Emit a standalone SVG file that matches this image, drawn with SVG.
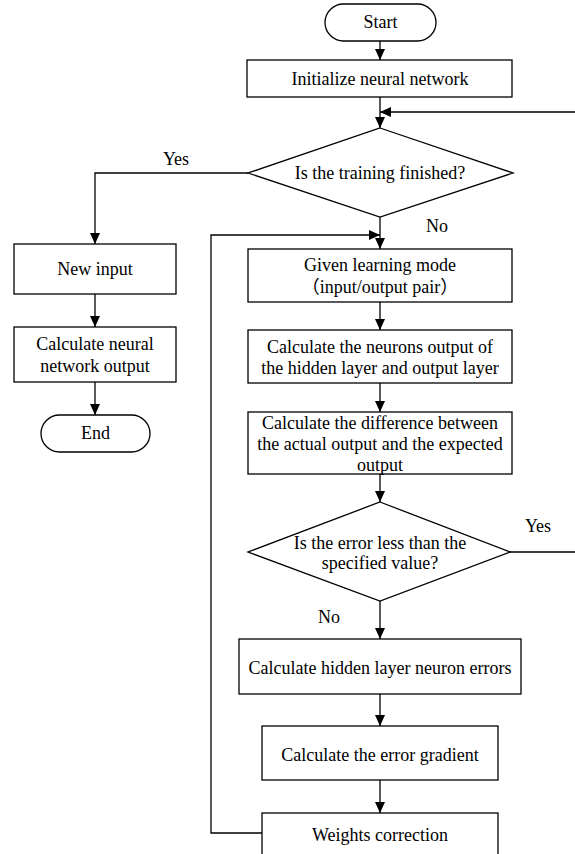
<svg xmlns="http://www.w3.org/2000/svg" width="575" height="854" viewBox="0 0 575 854">
<style>
.n{fill:#fff;stroke:#000;stroke-width:1.3}
.t{font-family:"Liberation Serif","Noto Sans CJK SC",serif;font-size:18px;fill:#000;text-anchor:middle}
.c{fill:none;stroke:#000;stroke-width:1.3}
</style>
<defs>
<marker id="ah" markerUnits="userSpaceOnUse" markerWidth="11" markerHeight="10" refX="11" refY="5" orient="auto">
<path d="M0,0 L11,5 L0,10 z" fill="#000"/>
</marker>
</defs>
<rect width="575" height="854" fill="#fff"/>
<g id="connectors">
<path class="c" d="M380,41 V60" marker-end="url(#ah)"/>
<path class="c" d="M380,97 V128" marker-end="url(#ah)"/>
<path class="c" d="M575,112 H380" marker-end="url(#ah)"/>
<path class="c" d="M248,173 H95 V244" marker-end="url(#ah)"/>
<path class="c" d="M95,294 V327" marker-end="url(#ah)"/>
<path class="c" d="M95,382 V415" marker-end="url(#ah)"/>
<path class="c" d="M380,217 V249" marker-end="url(#ah)"/>
<path class="c" d="M262,833 H211 V235 H380" marker-end="url(#ah)"/>
<path class="c" d="M380,302 V330" marker-end="url(#ah)"/>
<path class="c" d="M380,383 V412" marker-end="url(#ah)"/>
<path class="c" d="M380,474 V502" marker-end="url(#ah)"/>
<path class="c" d="M510,552 H575"/>
<path class="c" d="M380,601 V639" marker-end="url(#ah)"/>
<path class="c" d="M380,694 V726" marker-end="url(#ah)"/>
<path class="c" d="M380,780 V813" marker-end="url(#ah)"/>
<text class="t" x="176" y="165">Yes</text>
<text class="t" x="437" y="232">No</text>
<text class="t" x="538" y="532">Yes</text>
<text class="t" x="329" y="623">No</text>
</g>
<g id="start">
<rect class="n" x="325" y="4" width="111" height="37" rx="18.5"/>
<text class="t" x="380.5" y="28">Start</text>
</g>
<g id="init">
<rect class="n" x="247" y="60" width="265" height="37"/>
<text class="t" x="380" y="84.5">Initialize neural network</text>
</g>
<g id="trained">
<polygon class="n" points="380,128 513,173 380,217 248,173"/>
<text class="t" x="380" y="179">Is the training finished?</text>
</g>
<g id="newinput">
<rect class="n" x="14" y="244" width="162" height="50"/>
<text class="t" x="95" y="275">New input</text>
</g>
<g id="calcout">
<rect class="n" x="14" y="327" width="162" height="55"/>
<text class="t" x="95" y="350">Calculate neural</text>
<text class="t" x="95" y="372">network output</text>
</g>
<g id="end">
<rect class="n" x="41" y="415" width="109" height="37" rx="18.5"/>
<text class="t" x="95.5" y="439">End</text>
</g>
<g id="given">
<rect class="n" x="248" y="249" width="264" height="53"/>
<text class="t" x="380" y="271">Given learning mode</text>
<text class="t" x="380" y="293">（input/output pair）</text>
</g>
<g id="neurons">
<rect class="n" x="248" y="330" width="264" height="53"/>
<text class="t" x="380" y="353">Calculate the neurons output of</text>
<text class="t" x="380" y="374">the hidden layer and output layer</text>
</g>
<g id="diff">
<rect class="n" x="248" y="412" width="264" height="62"/>
<text class="t" x="380" y="429">Calculate the difference between</text>
<text class="t" x="380" y="450">the actual output and the expected</text>
<text class="t" x="380" y="471">output</text>
</g>
<g id="errcheck">
<polygon class="n" points="380,502 510,552 380,601 248,552"/>
<text class="t" x="380" y="549">Is the error less than the</text>
<text class="t" x="380" y="569">specified value?</text>
</g>
<g id="hidden">
<rect class="n" x="239" y="639" width="282" height="55"/>
<text class="t" x="380" y="674">Calculate hidden layer neuron errors</text>
</g>
<g id="gradient">
<rect class="n" x="262" y="726" width="236" height="54"/>
<text class="t" x="380" y="761">Calculate the error gradient</text>
</g>
<g id="weights">
<rect class="n" x="262" y="813" width="236" height="50"/>
<text class="t" x="380" y="841">Weights correction</text>
</g>
</svg>
